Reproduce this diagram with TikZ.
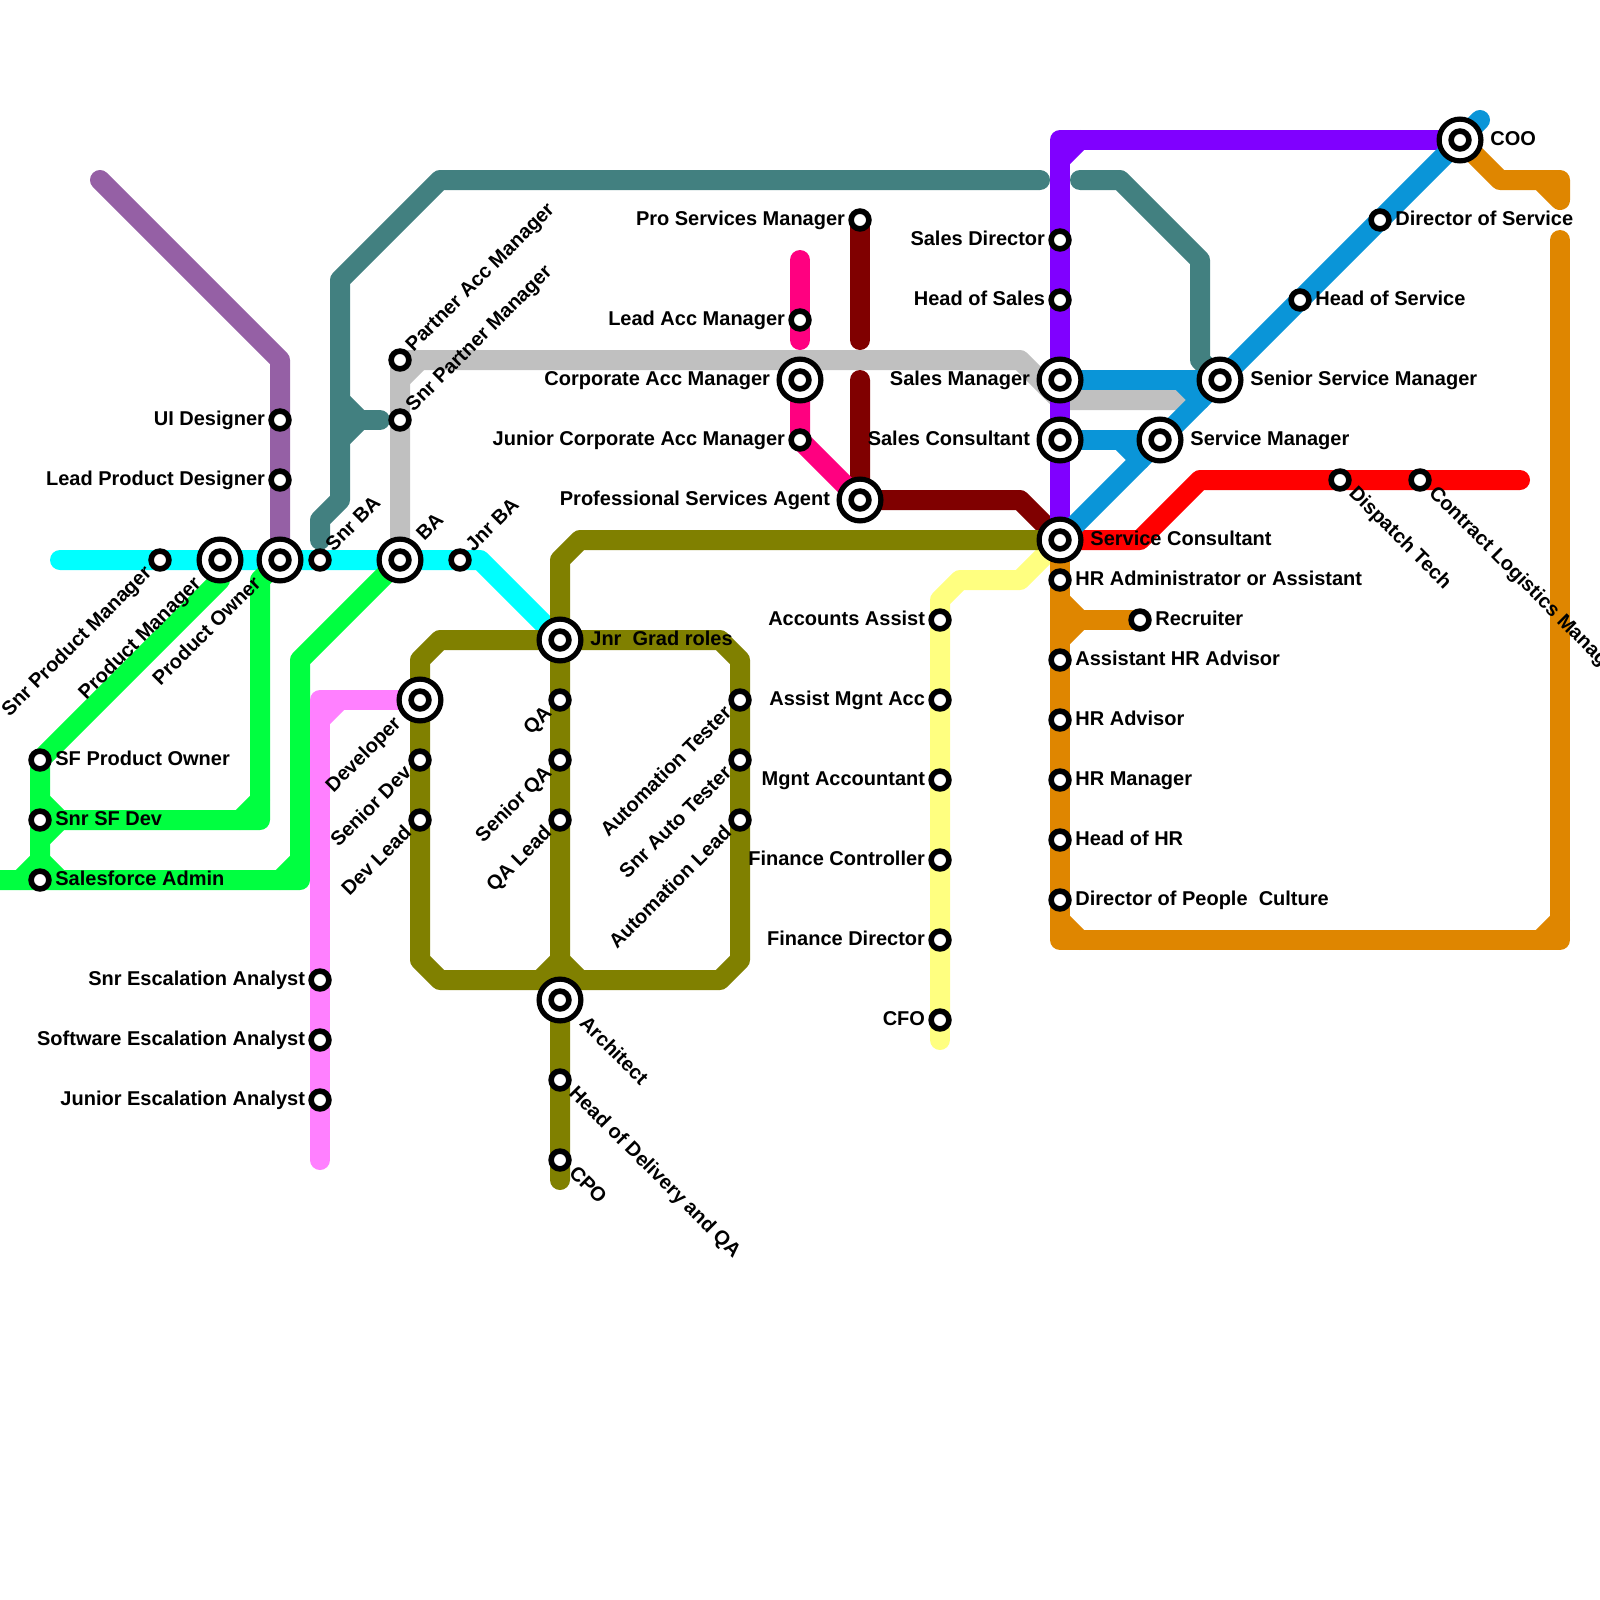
\documentclass[tikz,border=0pt]{standalone}
\usepackage{fontspec}
\setmainfont{Liberation Sans}
\definecolor{cPurple}{HTML}{9560A5}
\definecolor{cTeal}{HTML}{428080}
\definecolor{cOlive}{HTML}{808000}
\definecolor{cOrange}{HTML}{DF8600}
\definecolor{cBlue}{HTML}{0A95D8}
\definecolor{cGreen}{HTML}{00FF40}
\definecolor{cYellow}{HTML}{FFFF80}
\definecolor{cMagenta}{HTML}{FF0080}
\definecolor{cPink}{HTML}{FF80FF}
\definecolor{cViolet}{HTML}{8000FF}
\definecolor{cDark}{HTML}{800000}
\definecolor{cGrey}{HTML}{C0C0C0}
\definecolor{cAqua}{HTML}{00FFFF}
\definecolor{cRed}{HTML}{FF0000}
\tikzset{
  track/.style={line width=10pt,line cap=round,line join=round},
  smallstn/.style={circle,draw=black,fill=white,line width=2.8pt,inner sep=0pt,outer sep=0pt,minimum size=8.9pt},
  bigstn/.style={circle,draw=black,fill=white,line width=2.6pt,inner sep=0pt,outer sep=0pt,minimum size=20.9pt},
  txt/.style={font=\bfseries\fontsize{10}{12}\selectfont,inner sep=0pt,text=black},
  lft/.style={txt,xshift=-7.3pt,yshift=-2.8pt,anchor=base east},
  rgt/.style={txt,xshift=7.5pt,yshift=-2.8pt,anchor=base west},
  dnl/.style={txt,xshift=-3.6pt,yshift=-6.9pt,rotate=45,anchor=base east},
  upr/.style={txt,xshift=6.7pt,yshift=3.7pt,rotate=45,anchor=base west},
  dnr/.style={txt,xshift=3.9pt,yshift=-6.9pt,rotate=-45,anchor=base west},
  blft/.style={txt,xshift=-14.8pt,yshift=-2.8pt,anchor=base east},
  brgt/.style={txt,xshift=15pt,yshift=-2.8pt,anchor=base west},
  bdnl/.style={txt,xshift=-8.9pt,yshift=-12.2pt,rotate=45,anchor=base east},
  bupr/.style={txt,xshift=12pt,yshift=9pt,rotate=45,anchor=base west},
  bdnr/.style={txt,xshift=9.2pt,yshift=-12.2pt,rotate=-45,anchor=base west},
}
\begin{document}
\begin{tikzpicture}[x=0.5pt,y=-0.5pt]
\useasboundingbox (0,0) rectangle (1600,1600);
\clip (0,0) rectangle (1600,1600);
% stations
\foreach \n/\x/\y in {
 snrpm/160/560, pm/220/560, po/280/560, snrba/320/560, ba/400/560, jnrba/460/560,
 uid/280/420, lpd/280/480,
 sfpo/40/760, snrsf/40/820, sfadm/40/880,
 dev/420/700, srdev/420/760, devlead/420/820,
 esc1/320/980, esc2/320/1040, esc3/320/1100,
 pam/400/360, spm/400/420,
 jnr/560/640, qa/560/700, srqa/560/760, qalead/560/820,
 arch/560/1000, hod/560/1080, cpo/560/1160,
 at/740/700, sat/740/760, al/740/820,
 lam/800/320, cam/800/380, jcam/800/440,
 psm/860/220, psa/860/500,
 aa/940/620, ama/940/700, ma/940/780, fc/940/860, fd/940/940, cfo/940/1020,
 sd/1060/240, hs/1060/300, sm/1060/380, sc/1060/440, svc/1060/540,
 hra/1060/580, rec/1140/620, ahr/1060/660, hradv/1060/720, hrm/1060/780, hhr/1060/840, dpc/1060/900,
 svm/1160/440, ssm/1220/380, hos/1300/300, dos/1380/220, coo/1460/140,
 dt/1340/480, clm/1420/480}
 {\coordinate (\n) at (\x,\y);}
% tracks
\draw[track,cPurple] (100,180) -- (280,360) -- (po);
\draw[track,cAqua] (60,560) -- (jnrba) -- (480,560) -- (jnr);
\draw[track,cGreen] (pm) -- (220,580) -- (sfpo) -- (sfadm);
\draw[track,cGreen] (po) -- (260,580) -- (260,820) -- (60,820) -- (40,800);
\draw[track,cGreen] (240,820) -- (260,800);
\draw[track,cGreen] (60,820) -- (40,840);
\draw[track,cGreen] (ba) -- (300,660) -- (300,880) -- (-20,880);
\draw[track,cGreen] (280,880) -- (300,860);
\draw[track,cGreen] (20,880) -- (40,860) -- (60,880);
\draw[track,cPink] (dev) -- (320,700) -- (esc3) -- (320,1160);
\draw[track,cPink] (320,720) -- (340,700);
\draw[track,cTeal] (320,540) -- (320,520) -- (340,500) -- (340,280) -- (440,180) -- (1040,180);
\draw[track,cTeal] (340,400) -- (360,420) -- (340,440);
\draw[track,cTeal] (360,420) -- (380,420);
\draw[track,cTeal] (1080,180) -- (1120,180) -- (1200,260) -- (1200,360) -- (ssm);
\draw[track,cGrey] (ba) -- (pam) -- (1020,360) -- (1060,400) -- (1180,400);
\draw[track,cGrey] (400,380) -- (420,360);
\draw[track,cDark] (psm) -- (860,340);
\draw[track,cDark] (860,380) -- (psa) -- (1020,500) -- (svc);
\draw[track,cMagenta] (800,260) -- (800,340);
\draw[track,cMagenta] (cam) -- (jcam) -- (psa);
\draw[track,cYellow] (cfo) -- (940,1040);
\draw[track,cYellow] (cfo) -- (940,600) -- (960,580) -- (1020,580) -- (svc);
\draw[track,cOlive] (svc) -- (580,540) -- (560,560) -- (cpo) -- (560,1180);
\draw[track,cOlive] (jnr) -- (440,640) -- (420,660) -- (420,960) -- (440,980) -- (720,980) -- (740,960) -- (740,660) -- (720,640) -- (jnr);
\draw[track,cOlive] (540,980) -- (560,960) -- (580,980);
\draw[track,cOrange] (svc) -- (1060,940) -- (1560,940) -- (1560,240);
\draw[track,cOrange] (1060,920) -- (1080,940);
\draw[track,cOrange] (1540,940) -- (1560,920);
\draw[track,cOrange] (1060,600) -- (1080,620) -- (1060,640);
\draw[track,cOrange] (1080,620) -- (rec);
\draw[track,cOrange] (coo) -- (1500,180) -- (1560,180) -- (1560,200) -- (1540,180);
\draw[track,cViolet] (svc) -- (1060,140) -- (coo);
\draw[track,cViolet] (1060,160) -- (1080,140);
\draw[track,cRed] (svc) -- (1140,540) -- (1200,480) -- (1520,480);
\draw[track,cBlue] (svc) -- (1480,120);
\draw[track,cBlue] (sm) -- (ssm);
\draw[track,cBlue] (1180,380) -- (1200,400);
\draw[track,cBlue] (sc) -- (svm);
\draw[track,cBlue] (1120,440) -- (1140,460);
% big interchange rings
\foreach \n in {pm,po,ba,dev,jnr,arch,cam,psa,sm,sc,svc,svm,ssm,coo}
 {\node[bigstn] (ring-\n) at (\n) {};}
% station markers
\foreach \n in {snrpm,pm,po,snrba,ba,jnrba,uid,lpd,sfpo,snrsf,sfadm,dev,srdev,devlead,esc1,esc2,esc3,pam,spm,jnr,qa,srqa,qalead,arch,hod,cpo,at,sat,al,lam,cam,jcam,psm,psa,aa,ama,ma,fc,fd,cfo,sd,hs,sm,sc,svc,hra,rec,ahr,hradv,hrm,hhr,dpc,svm,ssm,hos,dos,coo,dt,clm}
 {\node[smallstn] (dot-\n) at (\n) {};}
% labels
\node[lft] (t1) at (uid) {UI Designer};
\node[lft] (t2) at (lpd) {Lead Product Designer};
\node[dnl] (t3) at (snrpm) {Snr Product Manager};
\node[bdnl] (t4) at (pm) {Product Manager};
\node[bdnl] (t5) at (po) {Product Owner};
\node[upr] (t6) at (snrba) {Snr BA};
\node[bupr] (t7) at (ba) {BA};
\node[upr] (t8) at (jnrba) {Jnr BA};
\node[rgt] (t9) at (sfpo) {SF Product Owner};
\node[rgt] (t10) at (snrsf) {Snr SF Dev};
\node[rgt] (t11) at (sfadm) {Salesforce Admin};
\node[bdnl] (t12) at (dev) {Developer};
\node[dnl] (t13) at (srdev) {Senior Dev};
\node[dnl] (t14) at (devlead) {Dev Lead};
\node[lft] (t15) at (esc1) {Snr Escalation Analyst};
\node[lft] (t16) at (esc2) {Software Escalation Analyst};
\node[lft] (t17) at (esc3) {Junior Escalation Analyst};
\node[upr] (t18) at (pam) {Partner Acc Manager};
\node[upr] (t19) at (spm) {Snr Partner Manager};
\node[brgt] (t20) at (jnr) {Jnr\ \ Grad roles};
\node[dnl] (t21) at (qa) {QA};
\node[dnl] (t22) at (srqa) {Senior QA};
\node[dnl] (t23) at (qalead) {QA Lead};
\node[bdnr] (t24) at (arch) {Architect};
\node[dnr] (t25) at (hod) {Head of Delivery and QA};
\node[dnr] (t26) at (cpo) {CPO};
\node[dnl] (t27) at (at) {Automation Tester};
\node[dnl] (t28) at (sat) {Snr Auto Tester};
\node[dnl] (t29) at (al) {Automation Lead};
\node[lft] (t30) at (lam) {Lead Acc Manager};
\node[blft] (t31) at (cam) {Corporate Acc Manager};
\node[lft] (t32) at (jcam) {Junior Corporate Acc Manager};
\node[lft] (t33) at (psm) {Pro Services Manager};
\node[blft] (t34) at (psa) {Professional Services Agent};
\node[lft] (t35) at (aa) {Accounts Assist};
\node[lft] (t36) at (ama) {Assist Mgnt Acc};
\node[lft] (t37) at (ma) {Mgnt Accountant};
\node[lft] (t38) at (fc) {Finance Controller};
\node[lft] (t39) at (fd) {Finance Director};
\node[lft] (t40) at (cfo) {CFO};
\node[lft] (t41) at (sd) {Sales Director};
\node[lft] (t42) at (hs) {Head of Sales};
\node[blft] (t43) at (sm) {Sales Manager};
\node[blft] (t44) at (sc) {Sales Consultant};
\node[brgt] (t45) at (svc) {Service Consultant};
\node[rgt] (t46) at (hra) {HR Administrator or Assistant};
\node[rgt] (t47) at (rec) {Recruiter};
\node[rgt] (t48) at (ahr) {Assistant HR Advisor};
\node[rgt] (t49) at (hradv) {HR Advisor};
\node[rgt] (t50) at (hrm) {HR Manager};
\node[rgt] (t51) at (hhr) {Head of HR};
\node[rgt] (t52) at (dpc) {Director of People\ \ Culture};
\node[brgt] (t53) at (svm) {Service Manager};
\node[brgt] (t54) at (ssm) {Senior Service Manager};
\node[rgt] (t55) at (hos) {Head of Service};
\node[rgt] (t56) at (dos) {Director of Service};
\node[brgt] (t57) at (coo) {COO};
\node[dnr] (t58) at (dt) {Dispatch Tech};
\node[dnr] (t59) at (clm) {Contract Logistics Manager};
\end{tikzpicture}
\end{document}
